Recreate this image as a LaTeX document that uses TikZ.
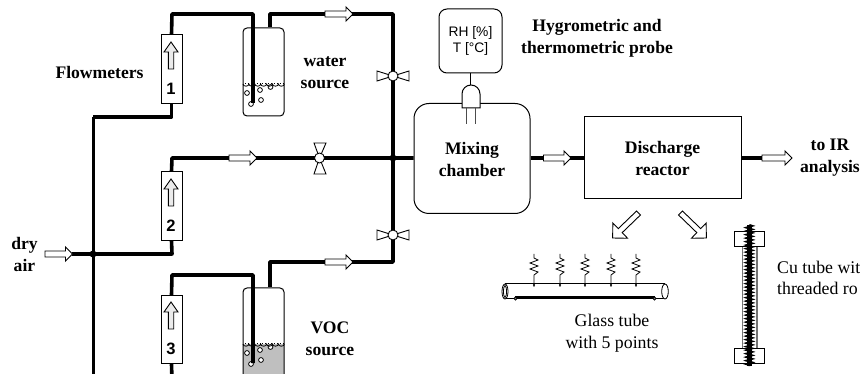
\documentclass[tikz,border=0pt]{standalone}
\usepackage{fontspec}
\setmainfont{Liberation Serif}
\setsansfont{Liberation Sans}
\usetikzlibrary{decorations.pathmorphing}
\newcommand{\hollowarrow}[7][white]{%
  \begin{scope}[shift={(#2)},rotate=#3]
    \draw[fill=#1,line width=.9pt,line join=miter] (0,#5)--({#4-#6},#5)--({#4-#6},#7)--(#4,0)--({#4-#6},-#7)--({#4-#6},-#5)--(0,-#5)--cycle;
  \end{scope}}
\newcommand{\bubbles}[1]{%
  \begin{scope}[shift={(0,#1)}]
    \foreach \a/\b in {247/93,260/90,270.5/87,261/100,251/104}
      \draw[fill=white,line width=.8pt] (\a,\b) circle[radius=2.4];
    \draw[line width=.8pt] (243,84) foreach \i in {0,...,6} { arc[start angle=180,end angle=0,x radius=2.95,y radius=2.2] };
    \draw[line width=.9pt,dotted] (245,83)--(283,83);
  \end{scope}}
\tikzset{
  pipe/.style={line width=3.6pt,line join=round,line cap=butt},
  thinln/.style={line width=1pt},
  meter/.style={draw,line width=.9pt,fill=white,minimum width=21pt,minimum height=68.5pt,inner sep=0pt},
  num/.style={font=\sffamily\bfseries\fontsize{16.5}{18}\selectfont,inner sep=0pt},
  jar/.style={draw,line width=1pt,rounded corners=4pt,minimum width=41pt,minimum height=88pt,inner sep=0pt},
  lab/.style={font=\fontsize{17.6}{22}\selectfont\bfseries,align=center,inner sep=0pt},
  plain/.style={font=\fontsize{17.8}{22}\selectfont,align=center,inner sep=0pt},
  dot/.style={circle,fill=black,minimum size=7pt,inner sep=0pt},
  valvedisc/.style={circle,draw,fill=white,line width=.9pt,minimum size=10pt,inner sep=0pt}
}
\begin{document}
\begin{tikzpicture}[x=1pt,y=-1pt]
\useasboundingbox (0,0) rectangle (860,374);
\clip (0,0) rectangle (860,374);
\fill[white] (0,0) rectangle (860,374);
% jars
\fill[black!25] (243,344) rectangle (284,380);
\node[jar] (jar1) at (263.5,72) {};
\node[jar,minimum height=100pt] (jar3) at (263.5,338) {};
\bubbles{0}
\bubbles{260}
% boxes
\node[meter] (fm1) at (171.5,69) {};
\node[meter] (fm2) at (171.5,206) {};
\node[meter] (fm3) at (171.5,329.5) {};
\node[draw,thinln,rounded corners=15pt,minimum width=116pt,minimum height=110pt,inner sep=0pt] (mix) at (472,158.5) {};
\node[draw,thinln,minimum width=157pt,minimum height=82pt,inner sep=0pt] (reac) at (662.5,158) {};
\node[draw,thinln,rounded corners=8pt,minimum width=63pt,minimum height=64pt,align=center,inner sep=0pt,font=\sffamily\fontsize{13.8}{16.5}\selectfont] (probe) at (470.5,41) {RH [\%]\\T [°C]};
% coordinates
\coordinate (botmain) at (93,380);
\coordinate (m1) at (93,117);
\coordinate (j0) at (93,254);
\coordinate (in) at (72,254);
\coordinate (t1a) at (172,14);
\coordinate (t1b) at (253,14);
\coordinate (t1c) at (253,103);
\coordinate (o1a) at (270,14);
\coordinate (o1b) at (393,14);
\coordinate (j1) at (393,158);
\coordinate (t2a) at (172,158);
\coordinate (t2b) at (172,254);
\coordinate (t3a) at (172,275);
\coordinate (t3b) at (253,275);
\coordinate (t3c) at (253,363);
\coordinate (o3a) at (270,262);
\coordinate (o3b) at (393,262);
\coordinate (fm3bot) at (172,380);
\coordinate (outr) at (762,158);
% pipes
\draw[pipe,line width=3pt] (botmain)--(m1);
\draw[pipe] (m1)-|(fm1.south);
\draw[pipe] (fm1.north)--(t1a)--(t1b)--(t1c);
\draw[pipe] (jar1.north-|o1a)--(o1a)--(o1b)--(j1);
\draw[pipe] (fm2.north)--(t2a)--(j1)--(mix.west|-j1);
\draw[pipe] (fm2.south)--(t2b)--(j0)--(in);
\draw[pipe] (fm3.north)--(t3a)--(t3b)--(t3c);
\draw[pipe] (fm3.south)--(fm3bot);
\draw[pipe] (j1)--(o3b)--(o3a)--(jar3.north-|o3a);
\draw[pipe] (mix.east|-j1)--(reac.west);
\draw[pipe] (reac.east)--(outr);
\node[dot] (d0) at (j0) {};
\node[dot] (d1) at (j1) {};
% meter contents
\foreach \y/\n [count=\i] in {42/1,179/2,302/3}{
  \hollowarrow[black!8]{171,\y+27}{90}{27}{2.7}{10}{7}
  \node[num] (n\i) at (171,\y+47) {\n};
}
% horizontal arrows
\hollowarrow{229,158}{0}{28}{3}{7}{7}
\hollowarrow{325,14}{0}{28}{3}{7}{7}
\hollowarrow{325,262}{0}{28}{3}{7}{7}
\hollowarrow{543.5,158}{0}{27.5}{3}{7}{7}
\hollowarrow{45,254}{0}{27.5}{3}{7}{7}
\hollowarrow{762,158}{0}{30}{3}{7}{7}
\hollowarrow{638.5,213}{224}{36}{2.8}{10.6}{10.6}
\hollowarrow{680.5,213}{-44}{36}{2.8}{10.6}{10.6}
% valves
\foreach \n/\y in {a/76,b/235}{
  \draw[fill=white,line width=.9pt] (393,\y)--(377,\y-5)--(377,\y+5)--cycle;
  \draw[fill=white,line width=.9pt] (393,\y)--(409,\y-5)--(409,\y+5)--cycle;
  \node[valvedisc] (v\n) at (393,\y) {};
}
\draw[fill=white,line width=.9pt] (319.5,158)--(314,143)--(326,143)--cycle;
\draw[fill=white,line width=.9pt] (319.5,158)--(314,174)--(326,174)--cycle;
\node[valvedisc] (vc) at (319.5,158) {};
% probe
\draw[thinln] (probe.south)--(470.5,85);
\draw[thinln,fill=white] (462,108)--(462,94) arc[start angle=180,end angle=360,radius=9]--(480,108)--cycle;
\draw[line width=.9pt,black!70] (466,108)--(466,124) (475,108)--(475,124);
% glass tube
\draw[thinln] (505,284)--(665,284) (505,299)--(665,299);
\draw[line width=.8pt,fill=white] (665,291.5) ellipse[x radius=3.3,y radius=7.5];
\draw[line width=.8pt,fill=white] (505,291.5) ellipse[x radius=3,y radius=7.5];
\draw[line width=.8pt] (505,291.5) ellipse[x radius=1.5,y radius=6];
\draw[line width=2pt] (515,297)--(655,297);
\draw[line width=.8pt,fill=black!50] (515.5,298.5) circle[radius=1.6] (654.5,298.5) circle[radius=1.6];
\foreach \x in {534,560,585,611,636}{
  \draw[line width=.8pt] (\x,254)--(\x,258)--(\x+4,260)--(\x-4,263)--(\x+4,266)--(\x-4,269)--(\x+4,272)--(\x,275)--(\x,287);
  \fill (\x,285) circle[radius=1.2];
}
% Cu tube
\draw[black!55,line width=1.6pt] (742.5,247)--(742.5,348) (756.7,247)--(756.7,348);
\node[draw,thinln,fill=white,minimum width=30pt,minimum height=15pt,inner sep=0pt] (cap1) at (749.3,239.5) {};
\node[draw,thinln,fill=white,minimum width=30pt,minimum height=15pt,inner sep=0pt] (cap2) at (749.3,355.5) {};
\coordinate (rodt) at (749.3,225);
\coordinate (rodb) at (749.3,366);
\draw[line width=5pt] (rodt)--(rodb);
\draw[line width=2pt,decorate,decoration={zigzag,segment length=3.5pt,amplitude=2.8pt}] (rodt)--(rodb);
% labels
\node[lab] (flow) at (99.5,72) {Flowmeters};
\node[lab] (water) at (325,73) {water\\source};
\node[lab] (voc) at (330,339) {VOC\\source};
\node[lab] (dry) at (24.5,254.5) {dry\\air};
\node[lab] (hyg) at (597,38.5) {Hygrometric and\\thermometric probe};
\node[lab] at (mix.center) [yshift=-.5pt] (mixl) {Mixing\\chamber};
\node[lab] at (reac.center) (reacl) {Discharge\\reactor};
\node[lab] (ir) at (830,158) {to IR\\analysis};
\node[plain] (gl) at (612,333) {Glass tube\\with 5 points};
\node[plain,align=left,anchor=west,font=\fontsize{17.8}{21}\selectfont] (cu) at (777,277.5) {Cu tube wit\\threaded ro};
\end{tikzpicture}
\end{document}
